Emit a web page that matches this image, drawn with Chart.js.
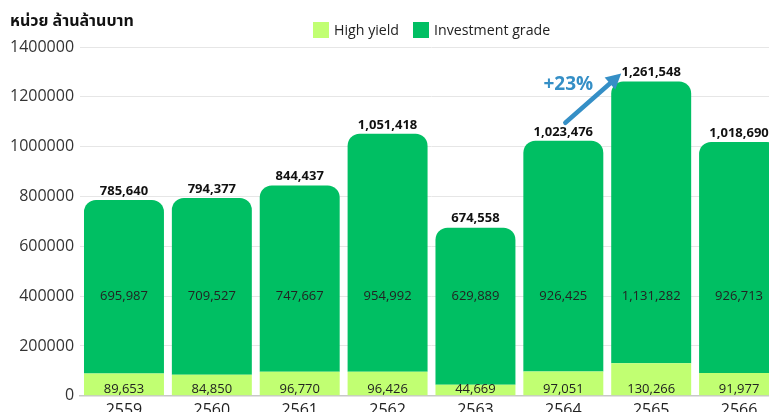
<!DOCTYPE html>
<html>
<head>
<meta charset="utf-8">
<script src="https://cdn.jsdelivr.net/npm/chart.js@4.4.1/dist/chart.umd.min.js"></script>
<style>
  html,body{margin:0;padding:0;background:#fff;overflow:hidden}
  #wrap{position:relative;width:800px;height:417px}
  #title{position:absolute;left:10px;top:9px;font:bold 16px "Noto Sans","Noto Sans Thai",sans-serif;color:#111}
  #legend{position:absolute;left:313px;top:20px;display:flex;gap:14px;font:14.2px "Open Sans",sans-serif;color:#222}
  #legend .item{display:flex;align-items:center;gap:5px}
  #legend .box{width:16px;height:16px;display:inline-block}
</style>
</head>
<body>
<div id="wrap">
  <canvas id="chart" width="800" height="417"></canvas>
  <div id="title">หน่วย ล้านล้านบาท</div>
  <div id="legend"></div>
</div>
<script>
// Bond issuance by year (Thai Buddhist years)
const years = ['2559','2560','2561','2562','2563','2564','2565','2566'];
const highYield = [89653, 84850, 96770, 96426, 44669, 97051, 130266, 91977];
const investmentGrade = [695987, 709527, 747667, 954992, 629889, 926425, 1131282, 926713];
const seriesNames = ['High yield','Investment grade'];
const seriesColors = ['#c1ff72','#00bf63'];

const totals = years.map((y,i)=>highYield[i]+investmentGrade[i]);
const fmt = v => v.toLocaleString('en-US');

// legend
const legendEl = document.getElementById('legend');
seriesNames.forEach((n,i)=>{
  const it = document.createElement('div'); it.className='item';
  it.innerHTML = `<span class="box" style="background:${seriesColors[i]}"></span><span>${n}</span>`;
  legendEl.appendChild(it);
});

// value labels + growth arrow
const labelsPlugin = {
  id:'barLabels',
  afterDatasetsDraw(chart){
    const ctx = chart.ctx;
    const xs = chart.scales.x, ys = chart.scales.y;
    ctx.save();
    ctx.textAlign='center'; ctx.textBaseline='middle';
    years.forEach((y,i)=>{
      const x = xs.getPixelForValue(i);
      ctx.fillStyle='#222';
      ctx.font='13px "Open Sans", sans-serif';
      ctx.fillText(fmt(highYield[i]), x, ys.getPixelForValue(0)-7);
      ctx.fillText(fmt(investmentGrade[i]), x, ys.getPixelForValue(400000));
      ctx.fillStyle='#111';
      ctx.font='bold 13px "Open Sans", sans-serif';
      ctx.fillText(fmt(totals[i]), x, ys.getPixelForValue(totals[i])-9);
    });

    // growth 2564 -> 2565
    const a = 5, b = 6;
    const pct = Math.round((totals[b]/totals[a]-1)*100);
    const x0 = xs.getPixelForValue(a)+2, y0 = ys.getPixelForValue(totals[a])-18;
    const x1 = xs.getPixelForValue(b)-30, y1 = ys.getPixelForValue(totals[b])-8;
    const ang = Math.atan2(y1-y0, x1-x0);
    const col = '#358fc6';
    ctx.strokeStyle=col; ctx.fillStyle=col; ctx.lineWidth=4.5; ctx.lineCap='round';
    ctx.beginPath();
    ctx.moveTo(x0,y0);
    ctx.lineTo(x1-9*Math.cos(ang), y1-9*Math.sin(ang));
    ctx.stroke();
    ctx.beginPath();
    ctx.moveTo(x1,y1);
    ctx.lineTo(x1-15*Math.cos(ang)+8*Math.sin(ang), y1-15*Math.sin(ang)-8*Math.cos(ang));
    ctx.lineTo(x1-15*Math.cos(ang)-8*Math.sin(ang), y1-15*Math.sin(ang)+8*Math.cos(ang));
    ctx.closePath(); ctx.fill();
    ctx.font='bold 19px "Open Sans", sans-serif';
    ctx.fillText('+'+pct+'%', x0+3, y0-38);
    ctx.restore();
  }
};

new Chart(document.getElementById('chart').getContext('2d'), {
  type:'bar',
  data:{
    labels: years,
    datasets:[
      {label:seriesNames[0], data:highYield, backgroundColor:seriesColors[0], borderRadius:0},
      {label:seriesNames[1], data:investmentGrade, backgroundColor:seriesColors[1],
       borderRadius:{topLeft:12, topRight:12, bottomLeft:0, bottomRight:0}, borderSkipped:false}
    ]
  },
  options:{
    responsive:false, animation:false,
    layout:{padding:{top:47, right:17, left:4, bottom:0}},
    datasets:{bar:{categoryPercentage:0.91, barPercentage:1}},
    plugins:{legend:{display:false}, tooltip:{enabled:false}},
    scales:{
      x:{stacked:true,
         grid:{display:false},
         border:{display:true, color:'#c8c8c8', width:1.5},
         ticks:{color:'#222', font:{size:16, family:'"Open Sans", sans-serif'}, padding:-3}},
      y:{stacked:true, min:0, max:1400000,
         grid:{color:'#e6e6e6', drawTicks:false},
         border:{display:false},
         ticks:{stepSize:200000, padding:6, color:'#333',
                font:{size:16, family:'"Open Sans", sans-serif'},
                callback:v=>String(v)}}
    }
  },
  plugins:[labelsPlugin]
});
</script>
</body>
</html>
